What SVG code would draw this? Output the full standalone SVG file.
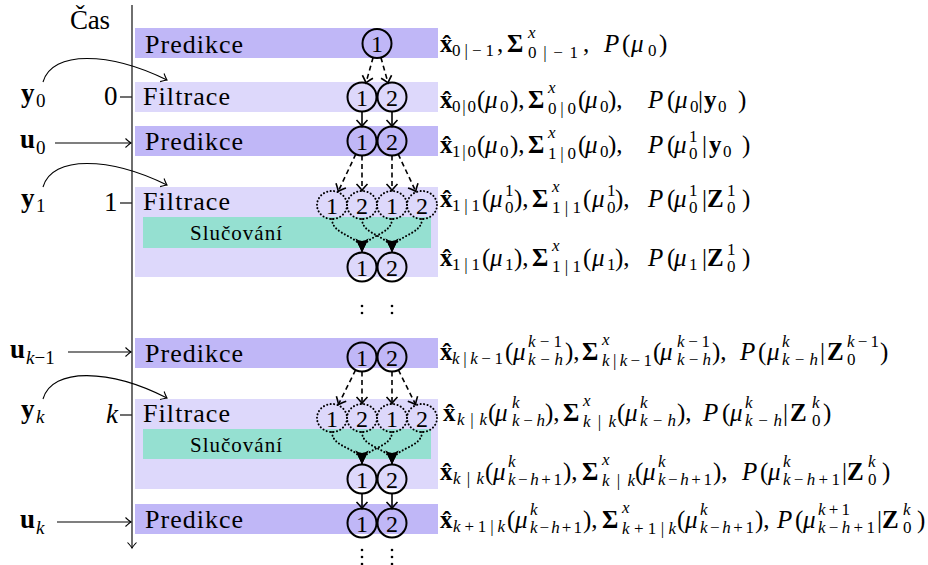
<svg xmlns="http://www.w3.org/2000/svg" width="928" height="565" viewBox="0 0 928 565">
<style>
text{font-family:"Liberation Serif",serif;fill:#000}
.m{font-size:25px}
.s{font-size:17px}
.b{font-weight:bold}
.i{font-style:italic}
.lbl{font-size:27px}
.ls{font-size:19px}
.bar{font-size:26px}
.sl{font-size:21px}
.d{font-size:24px;text-anchor:middle}
.pred{fill:#c0b7f7}
.filt{fill:#ddd8fb}
.merge{fill:#95e0d1}
.node{fill:none;stroke:#000;stroke-width:2}
.dnode{fill:none;stroke:#000;stroke-width:2;stroke-dasharray:0.1 3.4;stroke-linecap:round}
.dash{fill:none;stroke:#000;stroke-width:1.6;stroke-dasharray:5 3.5;marker-end:url(#to2)}
.solid{fill:none;stroke:#000;stroke-width:1.6;marker-end:url(#to2)}
.dcurve{fill:none;stroke:#000;stroke-width:2;stroke-dasharray:0.1 3.4;stroke-linecap:round;marker-end:url(#st)}
.thin{fill:none;stroke:#000;stroke-width:1.1;marker-end:url(#to1)}
.axis{fill:none;stroke:#222;stroke-width:1.3}
.dot{fill:#000}
</style>
<defs>
<marker id="to1" viewBox="-7 -6 9 12" refX="0" refY="0" markerWidth="9" markerHeight="12" orient="auto" markerUnits="userSpaceOnUse"><path d="M-5.5,-4.5 Q-1.5,-0.8 0,0 Q-1.5,0.8 -5.5,4.5" fill="none" stroke="#000" stroke-width="1.1"/></marker>
<marker id="to2" viewBox="-8 -7 10 14" refX="0" refY="0" markerWidth="10" markerHeight="14" orient="auto" markerUnits="userSpaceOnUse"><path d="M-6.5,-5.5 Q-1.8,-1 0,0 Q-1.8,1 -6.5,5.5" fill="none" stroke="#000" stroke-width="1.6"/></marker>
<marker id="st" viewBox="-15 -8 16 16" refX="0" refY="0" markerWidth="16" markerHeight="16" orient="auto" markerUnits="userSpaceOnUse"><path d="M0,0 L-14,-6.5 Q-9,0 -14,6.5 Z" fill="#000"/></marker>
</defs>

<g id="axis">
<line class="axis" x1="132" y1="5" x2="132" y2="548" marker-end="url(#to1)"/>
<line class="axis" x1="120" y1="97" x2="132" y2="97"/>
<line class="axis" x1="120" y1="203" x2="132" y2="203"/>
<line class="axis" x1="120" y1="415" x2="132" y2="415"/>
<text class="lbl" x="70" y="29" textLength="40">Čas</text>
<text class="lbl" x="104" y="105">0</text>
<text class="lbl" x="104" y="211">1</text>
<text class="lbl i" x="106" y="423">k</text>
</g>

<g id="bars">
<g id="pred0"><rect class="pred" x="135" y="28" width="303" height="30"/><text class="bar" x="145" y="53" textLength="98">Predikce</text></g>
<g id="filt0"><rect class="filt" x="135" y="82" width="303" height="30"/><text class="bar" x="143" y="105" textLength="87">Filtrace</text></g>
<g id="pred1"><rect class="pred" x="135" y="126" width="303" height="30"/><text class="bar" x="145" y="150" textLength="98">Predikce</text></g>
<g id="filt1"><rect class="filt" x="135" y="187" width="303" height="90"/><text class="bar" x="143" y="210" textLength="87">Filtrace</text></g>
<g id="merge1"><rect class="merge" x="143" y="217" width="288" height="31"/><text class="sl" x="190" y="240" textLength="92">Slučování</text></g>
<g id="predk1"><rect class="pred" x="135" y="338" width="303" height="30"/><text class="bar" x="145" y="362" textLength="98">Predikce</text></g>
<g id="filtk"><rect class="filt" x="135" y="399" width="303" height="90"/><text class="bar" x="143" y="422" textLength="87">Filtrace</text></g>
<g id="mergek"><rect class="merge" x="143" y="429" width="288" height="30"/><text class="sl" x="190" y="452" textLength="92">Slučování</text></g>
<g id="predk"><rect class="pred" x="135" y="504" width="303" height="30"/><text class="bar" x="145" y="528" textLength="98">Predikce</text></g>
</g>

<g id="inputs">
<g id="y0"><text class="lbl b" x="21" y="102">y</text><text class="ls" x="36" y="107">0</text></g>
<g id="u0"><text class="lbl b" x="20" y="148">u</text><text class="ls" x="36" y="154">0</text></g>
<g id="y1"><text class="lbl b" x="21" y="207">y</text><text class="ls" x="36" y="212">1</text></g>
<g id="uk1"><text class="lbl b" x="10" y="358">u</text><text class="ls" x="26" y="364"><tspan class="i">k</tspan>−1</text></g>
<g id="yk"><text class="lbl b" x="21" y="418">y</text><text class="ls i" x="36" y="423">k</text></g>
<g id="uk"><text class="lbl b" x="20" y="528">u</text><text class="ls i" x="36" y="534">k</text></g>
</g>

<g id="modes">
<g id="p0m1"><circle class="node" cx="377" cy="43.5" r="14.5"/><text class="d" x="377" y="52">1</text></g>
<g id="f0m1"><circle class="node" cx="362" cy="97" r="14.5"/><text class="d" x="362" y="105.5">1</text></g>
<g id="f0m2"><circle class="node" cx="392" cy="97" r="14.5"/><text class="d" x="392" y="105.5">2</text></g>
<g id="p1m1"><circle class="node" cx="362" cy="141" r="14.5"/><text class="d" x="362" y="149.5">1</text></g>
<g id="p1m2"><circle class="node" cx="392" cy="141" r="14.5"/><text class="d" x="392" y="149.5">2</text></g>
<g id="f1a"><ellipse class="dnode" cx="332" cy="205" rx="15" ry="14"/><text class="d" x="332" y="213.5">1</text></g>
<g id="f1b"><ellipse class="dnode" cx="362" cy="205" rx="15" ry="14"/><text class="d" x="362" y="213.5">2</text></g>
<g id="f1c"><ellipse class="dnode" cx="392" cy="205" rx="15" ry="14"/><text class="d" x="392" y="213.5">1</text></g>
<g id="f1d"><ellipse class="dnode" cx="422" cy="205" rx="15" ry="14"/><text class="d" x="422" y="213.5">2</text></g>
<g id="s1m1"><circle class="node" cx="362" cy="267" r="14.5"/><text class="d" x="362" y="275.5">1</text></g>
<g id="s1m2"><circle class="node" cx="392" cy="267" r="14.5"/><text class="d" x="392" y="275.5">2</text></g>
<g id="pk1m1"><circle class="node" cx="362" cy="357" r="14.5"/><text class="d" x="362" y="365.5">1</text></g>
<g id="pk1m2"><circle class="node" cx="392" cy="357" r="14.5"/><text class="d" x="392" y="365.5">2</text></g>
<g id="fka"><ellipse class="dnode" cx="332" cy="418" rx="15" ry="14"/><text class="d" x="332" y="426.5">1</text></g>
<g id="fkb"><ellipse class="dnode" cx="362" cy="418" rx="15" ry="14"/><text class="d" x="362" y="426.5">2</text></g>
<g id="fkc"><ellipse class="dnode" cx="392" cy="418" rx="15" ry="14"/><text class="d" x="392" y="426.5">1</text></g>
<g id="fkd"><ellipse class="dnode" cx="422" cy="418" rx="15" ry="14"/><text class="d" x="422" y="426.5">2</text></g>
<g id="skm1"><circle class="node" cx="362" cy="479" r="14.5"/><text class="d" x="362" y="487.5">1</text></g>
<g id="skm2"><circle class="node" cx="392" cy="479" r="14.5"/><text class="d" x="392" y="487.5">2</text></g>
<g id="pkm1"><circle class="node" cx="362" cy="523" r="14.5"/><text class="d" x="362" y="531.5">1</text></g>
<g id="pkm2"><circle class="node" cx="392" cy="523" r="14.5"/><text class="d" x="392" y="531.5">2</text></g>
<g id="vdots">
<circle class="dot" cx="362" cy="306" r="1.3"/><circle class="dot" cx="362" cy="313" r="1.3"/>
<circle class="dot" cx="392" cy="306" r="1.3"/><circle class="dot" cx="392" cy="313" r="1.3"/>
<circle class="dot" cx="362" cy="550" r="1.3"/><circle class="dot" cx="362" cy="557" r="1.3"/><circle class="dot" cx="362" cy="564" r="1.3"/>
<circle class="dot" cx="392" cy="550" r="1.3"/><circle class="dot" cx="392" cy="557" r="1.3"/><circle class="dot" cx="392" cy="564" r="1.3"/>
</g>
</g>

<g id="connectors">
<path class="thin" d="M43,82 c9,-32 67,-30 124,-2"/>
<path class="thin" d="M43,187 c9,-32 67,-30 124,-2"/>
<path class="thin" d="M43,399 c9,-32 67,-30 124,-1"/>
<line class="thin" x1="55" y1="143" x2="131" y2="143"/>
<line class="thin" x1="68" y1="352" x2="131" y2="352"/>
<line class="thin" x1="57" y1="522" x2="131" y2="522"/>
<line class="dash" x1="373.1" y1="57.5" x2="365.9" y2="83"/>
<line class="dash" x1="380.9" y1="57.5" x2="388.1" y2="83"/>
<line class="solid" x1="362" y1="111.5" x2="362" y2="126.5"/>
<line class="solid" x1="392" y1="111.5" x2="392" y2="126.5"/>
<line class="dash" x1="355.8" y1="154.1" x2="338.2" y2="191.5"/>
<line class="dash" x1="362" y1="155.5" x2="362" y2="190.5"/>
<line class="dash" x1="392" y1="155.5" x2="392" y2="190.5"/>
<line class="dash" x1="398.2" y1="154.1" x2="415.8" y2="191.5"/>
<path class="dcurve" d="M332,219 C332,236 362,235 362,252.5"/>
<path class="dcurve" d="M392,219 C392,236 362,235 362,252.5"/>
<path class="dcurve" d="M362,219 C362,236 392,235 392,252.5"/>
<path class="dcurve" d="M422,219 C422,236 392,235 392,252.5"/>
<line class="dash" x1="355.6" y1="370" x2="338.4" y2="404.5"/>
<line class="dash" x1="362" y1="371.5" x2="362" y2="403.5"/>
<line class="dash" x1="392" y1="371.5" x2="392" y2="403.5"/>
<line class="dash" x1="398.4" y1="370" x2="415.6" y2="404.5"/>
<path class="dcurve" d="M332,432 C332,449 362,447 362,464.5"/>
<path class="dcurve" d="M392,432 C392,449 362,447 362,464.5"/>
<path class="dcurve" d="M362,432 C362,449 392,447 392,464.5"/>
<path class="dcurve" d="M422,432 C422,449 392,447 392,464.5"/>
<line class="solid" x1="362" y1="493.5" x2="362" y2="508.5"/>
<line class="solid" x1="392" y1="493.5" x2="392" y2="508.5"/>
</g>

<g id="estimates">
<text class="m"><tspan x="440" y="52" class="b">x̂</tspan><tspan x="452" y="56" class="s" textLength="42">0|−1</tspan><tspan x="497" y="52">,</tspan><tspan x="507" class="b">Σ</tspan><tspan x="528" y="38" class="s i">x</tspan><tspan x="528" y="58" class="s" textLength="50">0|−1</tspan><tspan x="583" y="52">,</tspan><tspan x="604" class="i">P</tspan><tspan x="622">(</tspan><tspan x="631" class="i">μ</tspan><tspan x="648" y="56" class="s">0</tspan><tspan x="659" y="52">)</tspan></text>

<text class="m"><tspan x="440" y="108" class="b">x̂</tspan><tspan x="452" y="112" class="s" textLength="24">0|0</tspan><tspan x="477" y="108">(</tspan><tspan x="485" class="i">μ</tspan><tspan x="500" y="112" class="s">0</tspan><tspan x="510" y="108">),</tspan><tspan x="528" class="b">Σ</tspan><tspan x="548" y="93" class="s i">x</tspan><tspan x="548" y="114" class="s" textLength="28">0|0</tspan><tspan x="578" y="108">(</tspan><tspan x="585" class="i">μ</tspan><tspan x="600" y="112" class="s">0</tspan><tspan x="608" y="108">),</tspan><tspan x="648" class="i">P</tspan><tspan x="667">(</tspan><tspan x="675" class="i">μ</tspan><tspan x="690" y="112" class="s">0</tspan><tspan x="698" y="108">|</tspan><tspan x="704" class="b">y</tspan><tspan x="718" y="112" class="s">0</tspan><tspan x="738" y="108">)</tspan></text>

<text class="m"><tspan x="440" y="153" class="b">x̂</tspan><tspan x="452" y="157" class="s" textLength="24">1|0</tspan><tspan x="477" y="153">(</tspan><tspan x="485" class="i">μ</tspan><tspan x="500" y="157" class="s">0</tspan><tspan x="510" y="153">),</tspan><tspan x="528" class="b">Σ</tspan><tspan x="548" y="138" class="s i">x</tspan><tspan x="548" y="159" class="s" textLength="28">1|0</tspan><tspan x="578" y="153">(</tspan><tspan x="585" class="i">μ</tspan><tspan x="600" y="157" class="s">0</tspan><tspan x="608" y="153">),</tspan><tspan x="648" class="i">P</tspan><tspan x="667">(</tspan><tspan x="674" class="i">μ</tspan><tspan x="689" y="142" class="s">1</tspan><tspan x="689" y="159" class="s">0</tspan><tspan x="702" y="153">|</tspan><tspan x="709" class="b">y</tspan><tspan x="723" y="157" class="s">0</tspan><tspan x="742" y="153">)</tspan></text>

<text class="m"><tspan x="440" y="207" class="b">x̂</tspan><tspan x="452" y="211" class="s" textLength="28">1|1</tspan><tspan x="482" y="207">(</tspan><tspan x="490" class="i">μ</tspan><tspan x="505" y="196" class="s">1</tspan><tspan x="505" y="213" class="s">0</tspan><tspan x="514" y="207">),</tspan><tspan x="532" class="b">Σ</tspan><tspan x="552" y="192" class="s i">x</tspan><tspan x="552" y="213" class="s" textLength="29">1|1</tspan><tspan x="583" y="207">(</tspan><tspan x="592" class="i">μ</tspan><tspan x="607" y="196" class="s">1</tspan><tspan x="607" y="213" class="s">0</tspan><tspan x="615" y="207">),</tspan><tspan x="648" class="i">P</tspan><tspan x="667">(</tspan><tspan x="674" class="i">μ</tspan><tspan x="689" y="196" class="s">1</tspan><tspan x="689" y="213" class="s">0</tspan><tspan x="702" y="207">|</tspan><tspan x="707" class="b">Z</tspan><tspan x="727" y="196" class="s">1</tspan><tspan x="727" y="213" class="s">0</tspan><tspan x="742" y="207">)</tspan></text>

<text class="m"><tspan x="440" y="266" class="b">x̂</tspan><tspan x="452" y="270" class="s" textLength="28">1|1</tspan><tspan x="482" y="266">(</tspan><tspan x="490" class="i">μ</tspan><tspan x="505" y="270" class="s">1</tspan><tspan x="514" y="266">),</tspan><tspan x="532" class="b">Σ</tspan><tspan x="552" y="251" class="s i">x</tspan><tspan x="552" y="272" class="s" textLength="29">1|1</tspan><tspan x="583" y="266">(</tspan><tspan x="592" class="i">μ</tspan><tspan x="607" y="270" class="s">1</tspan><tspan x="615" y="266">),</tspan><tspan x="648" class="i">P</tspan><tspan x="667">(</tspan><tspan x="674" class="i">μ</tspan><tspan x="689" y="270" class="s">1</tspan><tspan x="702" y="266">|</tspan><tspan x="707" class="b">Z</tspan><tspan x="727" y="255" class="s">1</tspan><tspan x="727" y="272" class="s">0</tspan><tspan x="742" y="266">)</tspan></text>

<text class="m"><tspan x="440" y="360" class="b">x̂</tspan><tspan x="452" y="364" class="s" textLength="51"><tspan class="i">k</tspan>|<tspan class="i">k</tspan>−1</tspan><tspan x="505" y="360">(</tspan><tspan x="513" class="i">μ</tspan><tspan x="528" y="347" class="s" textLength="34"><tspan class="i">k</tspan>−1</tspan><tspan x="528" y="365" class="s i" textLength="35">k−h</tspan><tspan x="565" y="360">),</tspan><tspan x="582" class="b">Σ</tspan><tspan x="602" y="345" class="s i">x</tspan><tspan x="602" y="366" class="s" textLength="50"><tspan class="i">k</tspan>|<tspan class="i">k</tspan>−1</tspan><tspan x="653" y="360">(</tspan><tspan x="660" class="i">μ</tspan><tspan x="677" y="347" class="s" textLength="33"><tspan class="i">k</tspan>−1</tspan><tspan x="677" y="365" class="s i" textLength="34">k−h</tspan><tspan x="712" y="360">),</tspan><tspan x="740" class="i">P</tspan><tspan x="758">(</tspan><tspan x="767" class="i">μ</tspan><tspan x="782" y="347" class="s i">k</tspan><tspan x="782" y="365" class="s i" textLength="36">k−h</tspan><tspan x="820" y="360">|</tspan><tspan x="827" class="b">Z</tspan><tspan x="847" y="347" class="s" textLength="32"><tspan class="i">k</tspan>−1</tspan><tspan x="847" y="365" class="s">0</tspan><tspan x="880" y="360">)</tspan></text>

<text class="m"><tspan x="443" y="421" class="b">x̂</tspan><tspan x="457" y="425" class="s" textLength="30"><tspan class="i">k</tspan>|<tspan class="i">k</tspan></tspan><tspan x="488" y="421">(</tspan><tspan x="495" class="i">μ</tspan><tspan x="512" y="408" class="s i">k</tspan><tspan x="512" y="426" class="s i" textLength="33">k−h</tspan><tspan x="545" y="421">),</tspan><tspan x="563" class="b">Σ</tspan><tspan x="583" y="406" class="s i">x</tspan><tspan x="583" y="427" class="s" textLength="33"><tspan class="i">k</tspan>|<tspan class="i">k</tspan></tspan><tspan x="617" y="421">(</tspan><tspan x="625" class="i">μ</tspan><tspan x="640" y="408" class="s i">k</tspan><tspan x="640" y="426" class="s i" textLength="36">k−h</tspan><tspan x="677" y="421">),</tspan><tspan x="703" class="i">P</tspan><tspan x="722">(</tspan><tspan x="730" class="i">μ</tspan><tspan x="745" y="408" class="s i">k</tspan><tspan x="745" y="426" class="s i" textLength="37">k−h</tspan><tspan x="783" y="421">|</tspan><tspan x="790" class="b">Z</tspan><tspan x="812" y="408" class="s i">k</tspan><tspan x="812" y="426" class="s">0</tspan><tspan x="823" y="421">)</tspan></text>

<text class="m"><tspan x="440" y="480" class="b">x̂</tspan><tspan x="453" y="484" class="s" textLength="31"><tspan class="i">k</tspan>|<tspan class="i">k</tspan></tspan><tspan x="485" y="480">(</tspan><tspan x="493" class="i">μ</tspan><tspan x="508" y="467" class="s i">k</tspan><tspan x="508" y="485" class="s" textLength="54"><tspan class="i">k</tspan>−<tspan class="i">h</tspan>+1</tspan><tspan x="563" y="480">),</tspan><tspan x="582" class="b">Σ</tspan><tspan x="602" y="465" class="s i">x</tspan><tspan x="602" y="486" class="s" textLength="33"><tspan class="i">k</tspan>|<tspan class="i">k</tspan></tspan><tspan x="635" y="480">(</tspan><tspan x="643" class="i">μ</tspan><tspan x="658" y="467" class="s i">k</tspan><tspan x="658" y="485" class="s" textLength="54"><tspan class="i">k</tspan>−<tspan class="i">h</tspan>+1</tspan><tspan x="713" y="480">),</tspan><tspan x="742" class="i">P</tspan><tspan x="760">(</tspan><tspan x="768" class="i">μ</tspan><tspan x="783" y="467" class="s i">k</tspan><tspan x="783" y="485" class="s" textLength="57"><tspan class="i">k</tspan>−<tspan class="i">h</tspan>+1</tspan><tspan x="842" y="480">|</tspan><tspan x="847" class="b">Z</tspan><tspan x="868" y="467" class="s i">k</tspan><tspan x="868" y="485" class="s">0</tspan><tspan x="882" y="480">)</tspan></text>

<text class="m"><tspan x="440" y="528" class="b">x̂</tspan><tspan x="453" y="532" class="s" textLength="52"><tspan class="i">k</tspan>+1|<tspan class="i">k</tspan></tspan><tspan x="507" y="528">(</tspan><tspan x="515" class="i">μ</tspan><tspan x="530" y="515" class="s i">k</tspan><tspan x="530" y="533" class="s" textLength="52"><tspan class="i">k</tspan>−<tspan class="i">h</tspan>+1</tspan><tspan x="583" y="528">),</tspan><tspan x="602" class="b">Σ</tspan><tspan x="622" y="513" class="s i">x</tspan><tspan x="622" y="534" class="s" textLength="54"><tspan class="i">k</tspan>+1|<tspan class="i">k</tspan></tspan><tspan x="677" y="528">(</tspan><tspan x="685" class="i">μ</tspan><tspan x="700" y="515" class="s i">k</tspan><tspan x="700" y="533" class="s" textLength="54"><tspan class="i">k</tspan>−<tspan class="i">h</tspan>+1</tspan><tspan x="755" y="528">),</tspan><tspan x="777" class="i">P</tspan><tspan x="795">(</tspan><tspan x="803" class="i">μ</tspan><tspan x="818" y="515" class="s" textLength="32"><tspan class="i">k</tspan>+1</tspan><tspan x="818" y="533" class="s" textLength="57"><tspan class="i">k</tspan>−<tspan class="i">h</tspan>+1</tspan><tspan x="877" y="528">|</tspan><tspan x="882" class="b">Z</tspan><tspan x="903" y="515" class="s i">k</tspan><tspan x="903" y="533" class="s">0</tspan><tspan x="917" y="528">)</tspan></text>
</g>
</svg>
